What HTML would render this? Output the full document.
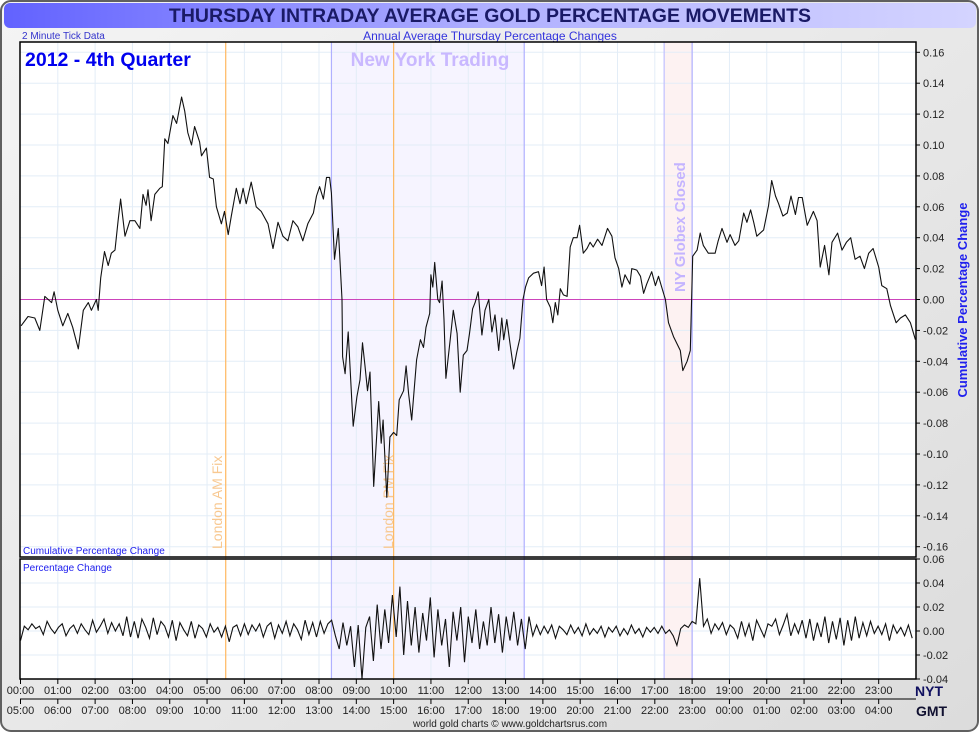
<!DOCTYPE html>
<html><head><meta charset="utf-8"><style>
html,body{margin:0;padding:0;background:#fff;}
#wrap{position:relative;width:980px;height:733px;overflow:hidden;}
svg text{font-family:"Liberation Sans",sans-serif;}
</style></head><body>
<div id="wrap">
<svg id="chart" width="980" height="733" xmlns="http://www.w3.org/2000/svg">
<defs>
<linearGradient id="bg" x1="0" y1="0" x2="1" y2="1"><stop offset="0" stop-color="#f4f4f4"/><stop offset="1" stop-color="#dcdcdc"/></linearGradient>
<linearGradient id="tb" x1="0" y1="0" x2="1" y2="0"><stop offset="0" stop-color="#6262ff"/><stop offset="0.5" stop-color="#b0b0ff"/><stop offset="1" stop-color="#d4d4ff"/></linearGradient>
</defs>
<rect x="1" y="1" width="977" height="730" rx="10" fill="url(#bg)" stroke="#606060" stroke-width="2"/>
<rect x="4" y="3" width="972" height="25" rx="6" fill="url(#tb)"/>
<text x="490" y="22" text-anchor="middle" font-size="19.5" font-weight="bold" fill="#1a1a66">THURSDAY INTRADAY AVERAGE GOLD PERCENTAGE MOVEMENTS</text>
<text x="22" y="39" font-size="10" fill="#3333cc">2 Minute Tick Data</text>
<text x="490" y="40" text-anchor="middle" font-size="12" fill="#3333dd">Annual Average Thursday Percentage Changes</text>
<g id="g"></g>
</svg>
</div>
<script>
// cumulative series: minutes since 00:00 NYT, value (%)
const cumMinutes=[1,12,23,31,39,50,54,60,68,76,84,93,101,109,114,122,125,129,135,141,146,152,157,161,168,176,184,192,197,202,205,210,216,224,228,232,237,245,251,259,264,269,275,280,288,291,299,304,310,315,323,328,334,339,347,353,358,363,371,379,387,398,406,414,422,430,438,446,454,462,471,476,481,487,492,497,500,505,511,
517,518,522,527,533,535,541,546,550,554,558,562,568,576,580,583,589,594,600,605,609,616,620,624,629,637,643,648,652,658,660,663,666,671,674,678,681,684,691,696,702,707,712,718,722,727,731,736,742,747,753,758,763,769,774,777,782,787,793,798,803,808,812,817,825,833,838,842,846,852,856,860,864,868,873,879,884,889,895,899,905,911,916,921,928,935,944,951,956,962,
967,972,980,983,991,997,1002,1007,1015,1021,1026,1031,1037,1042,1050,1061,1065,1072,1077,1081,1088,1093,1098,1106,1117,1122,1128,1136,1141,1149,1155,1163,1168,1174,1179,1184,1195,1203,1208,1214,1219,1226,1233,1239,1246,1251,1257,1265,1275,1281,1286,1293,1300,1305,1314,1321,1328,1335,1342,1350,1357,1364,1371,1380,1385,1393,1399,1408,1415,1423,1431,1439];
const cumValues=[-0.017,-0.011,-0.012,-0.020,0.002,-0.002,0.005,-0.007,-0.017,-0.009,-0.018,-0.032,-0.007,-0.002,-0.007,0.000,-0.007,0.014,0.031,0.022,0.030,0.032,0.051,0.065,0.041,0.051,0.051,0.046,0.068,0.061,0.071,0.051,0.068,0.072,0.073,0.104,0.101,0.119,0.114,0.131,0.122,0.108,0.100,0.112,0.102,0.093,0.098,0.079,0.078,0.060,0.049,0.057,0.042,0.054,0.072,0.062,0.072,0.062,0.076,0.060,0.057,0.049,0.033,0.050,0.041,0.038,0.051,0.047,0.038,0.049,0.056,0.067,0.073,0.065,0.079,0.079,0.069,0.026,0.046,
0.000,-0.037,-0.048,-0.021,-0.068,-0.082,-0.063,-0.052,-0.028,-0.043,-0.059,-0.047,-0.121,-0.066,-0.093,-0.078,-0.128,-0.089,-0.086,-0.088,-0.065,-0.059,-0.043,-0.061,-0.078,-0.039,-0.026,-0.031,-0.018,-0.009,0.016,0.008,0.024,0.000,-0.002,0.012,-0.013,-0.051,-0.026,-0.007,-0.022,-0.060,-0.036,-0.033,-0.022,-0.006,-0.002,0.005,-0.023,-0.007,0.000,-0.021,-0.010,-0.033,-0.012,-0.026,-0.013,-0.028,-0.045,-0.034,-0.025,0.000,0.008,0.014,0.017,0.018,0.009,0.021,0.000,-0.005,-0.015,-0.002,-0.010,0.007,0.003,0.002,0.034,0.040,0.040,0.048,0.030,0.033,0.037,0.034,0.039,0.035,0.046,0.041,0.027,0.020,
0.008,0.016,0.010,0.020,0.019,0.015,0.004,0.010,0.018,0.009,0.015,0.008,0.000,-0.015,-0.024,-0.033,-0.046,-0.040,-0.033,0.028,0.032,0.043,0.035,0.030,0.030,0.038,0.046,0.037,0.042,0.035,0.038,0.056,0.050,0.058,0.050,0.041,0.045,0.061,0.077,0.067,0.062,0.054,0.056,0.067,0.055,0.066,0.066,0.048,0.057,0.051,0.021,0.035,0.016,0.037,0.043,0.032,0.037,0.040,0.026,0.028,0.020,0.030,0.033,0.021,0.009,0.007,-0.004,-0.015,-0.012,-0.010,-0.015,-0.026];
// per-interval percentage change, 6-minute spacing (240 values)
const pctValues=[-0.008,0.004,0.001,0.006,0.002,0.004,-0.003,0.008,0.002,-0.002,0.003,0.006,-0.004,0.002,0.005,-0.002,0.006,0.001,-0.003,0.009,-0.001,0.004,0.010,-0.002,0.007,0.000,0.006,-0.004,0.012,-0.005,0.008,-0.006,0.010,0.003,-0.006,0.011,-0.003,0.008,0.004,-0.005,0.009,-0.008,0.007,0.001,-0.004,0.008,-0.006,0.005,0.002,-0.005,0.006,-0.001,0.003,-0.005,0.004,-0.009,0.003,0.005,-0.004,0.006,-0.003,0.005,0.000,0.006,-0.005,0.004,0.007,-0.006,0.005,-0.002,0.008,-0.004,0.006,0.001,-0.007,0.009,-0.003,0.007,-0.005,0.008,-0.002,0.006,0.009,-0.004,
-0.015,0.007,-0.012,0.004,-0.030,0.005,-0.040,0.003,0.012,-0.025,0.022,-0.015,0.018,-0.010,0.030,-0.005,0.037,-0.020,0.025,-0.012,0.020,-0.018,0.015,-0.008,0.028,-0.022,0.018,-0.012,0.010,-0.030,0.016,-0.008,0.020,-0.026,0.012,-0.010,0.018,-0.015,0.008,-0.012,0.020,-0.010,0.014,-0.018,0.012,-0.008,0.016,-0.012,0.010,-0.015,0.012,
-0.004,0.005,-0.003,0.004,-0.002,0.005,-0.006,0.004,0.001,-0.003,0.005,-0.002,0.003,-0.004,0.006,-0.003,0.002,-0.002,0.004,-0.005,0.003,-0.001,0.004,-0.004,0.002,-0.003,0.005,-0.002,0.002,-0.005,0.003,-0.001,0.003,-0.002,0.004,-0.002,0.001,-0.004,-0.012,0.002,0.005,0.003,0.008,0.006,0.044,
0.004,0.010,-0.002,0.006,0.001,0.007,-0.003,0.005,0.002,-0.006,0.008,-0.004,0.006,-0.008,0.009,0.002,-0.005,0.006,0.004,0.010,-0.003,0.005,0.014,-0.004,0.006,-0.002,0.009,-0.006,0.010,-0.008,0.007,-0.005,0.012,-0.010,0.008,-0.007,0.011,-0.012,0.009,-0.008,0.012,-0.006,0.007,-0.004,0.008,-0.002,0.004,-0.003,0.006,-0.008,0.005,-0.002,0.003,-0.004,0.005,-0.006];
const cumTicks=[0.16,0.14,0.12,0.10,0.08,0.06,0.04,0.02,0.00,-0.02,-0.04,-0.06,-0.08,-0.10,-0.12,-0.14,-0.16];
const pctTicks=[0.06,0.04,0.02,0.00,-0.02,-0.04];
const nytLabels=["00:00","01:00","02:00","03:00","04:00","05:00","06:00","07:00","08:00","09:00","10:00","11:00","12:00","13:00","14:00","15:00","16:00","17:00","18:00","19:00","20:00","21:00","22:00","23:00"];
const gmtLabels=["05:00","06:00","07:00","08:00","09:00","10:00","11:00","12:00","13:00","14:00","15:00","16:00","17:00","18:00","19:00","20:00","21:00","22:00","23:00","00:00","01:00","02:00","03:00","04:00"];

const NS="http://www.w3.org/2000/svg";
const g=document.getElementById('g');
const L=20.5,R=916;
const x=m=>L+(R-L)*m/1440;
const yC=v=>299.5-v/0.02*30.9;
const yP=v=>631-v/0.02*24;
function mk(tag,attrs,parent){const e=document.createElementNS(NS,tag);for(const k in attrs)e.setAttribute(k,attrs[k]);(parent||g).appendChild(e);return e;}

let e=mk('rect',{x:20,y:42,width:896,height:515,fill:'#fff'});


e=mk('rect',{x:20,y:559,width:896,height:120,fill:'#fff'});



[[500,810,'#f6f4ff','ny-trading-region'],[1035,1080,'#fdf2f2','globex-closed-region']].forEach(r=>{
 const el=mk('rect',{x:x(r[0]),y:42,width:x(r[1])-x(r[0]),height:637,fill:r[2]});
 
 
});
for(let h=1;h<24;h++){const gl=mk('line',{x1:x(h*60),x2:x(h*60),y1:42,y2:679,stroke:'#e3edf7','stroke-width':1});
 
 }
cumTicks.forEach(t=>{const gl=mk('line',{x1:20,x2:916,y1:yC(t),y2:yC(t),stroke:'#e3edf7'});
 
 });
pctTicks.forEach(t=>{const gl=mk('line',{x1:20,x2:916,y1:yP(t),y2:yP(t),stroke:'#e3edf7'});
 
 });
[[500,'#b0b0ff'],[810,'#b0b0ff'],[1035,'#c0c0ff'],[1080,'#b0b0ff'],[330,'#ffb860'],[600,'#ffb860']].forEach(v=>{
 const el=mk('line',{x1:x(v[0]),x2:x(v[0]),y1:42,y2:679,stroke:v[1],'stroke-width':1.2});
 
 
});
e=mk('line',{x1:20,x2:916,y1:yC(0),y2:yC(0),stroke:'#cc44bb','stroke-width':1});



function txt(s,a,name){const t=mk('text',a);t.textContent=s;return t;}
txt('New York Trading',{x:430,y:66,'text-anchor':'middle','font-size':19,'font-weight':'bold',fill:'#c9b8ff'},'ny-trading-label');
txt('London AM Fix',{x:0,y:0,'font-size':14,fill:'#f8c890',transform:'translate(222,549) rotate(-90)'},'london-am-fix-label');
txt('London PM Fix',{x:0,y:0,'font-size':14,fill:'#f8c890',transform:'translate(393,549) rotate(-90)'},'london-pm-fix-label');
txt('NY Globex Closed',{x:0,y:0,'font-size':15,'font-weight':'bold',fill:'#c4b4ff',transform:'translate(685,292) rotate(-90)'},'globex-closed-label');
txt('2012 - 4th Quarter',{x:25,y:66,'font-size':19.5,'font-weight':'bold',fill:'#0000ee'},'quarter-label');
txt('Cumulative Percentage Change',{x:23,y:554,'font-size':10,fill:'#2020ee'},'cumulative-panel-label');
txt('Percentage Change',{x:23,y:571,'font-size':10,fill:'#2020ee'},'pct-panel-label');

let d='';cumMinutes.forEach((m,i)=>{d+=(i?'L':'M')+x(m).toFixed(1)+','+yC(cumValues[i]).toFixed(1);});
e=mk('path',{d:d,fill:'none',stroke:'#111','stroke-width':1.1,'stroke-linejoin':'round'});


d='';const step=1440/pctValues.length;
pctValues.forEach((v,i)=>{d+=(i?'L':'M')+x(i*step).toFixed(1)+','+yP(v).toFixed(1);});
e=mk('path',{d:d,fill:'none',stroke:'#111','stroke-width':1.1});



e=mk('rect',{x:20,y:42,width:896,height:515,fill:'none',stroke:'#000','stroke-width':1.5});


e=mk('rect',{x:20,y:559,width:896,height:120,fill:'none',stroke:'#000','stroke-width':1.5});



cumTicks.forEach(t=>{mk('line',{x1:916,x2:920,y1:yC(t),y2:yC(t),stroke:'#000'});
 txt(t.toFixed(2),{x:923,y:yC(t)+4,'font-size':11,fill:'#222'},'y-tick-label');});
pctTicks.forEach(t=>{mk('line',{x1:916,x2:920,y1:yP(t),y2:yP(t),stroke:'#000'});
 txt(t.toFixed(2),{x:923,y:yP(t)+4,'font-size':11,fill:'#222'},'y-tick-label-lower');});
txt('Cumulative Percentage Change',{x:0,y:0,'text-anchor':'middle','font-size':13,'font-weight':'bold',fill:'#2020ee',transform:'translate(967,300) rotate(-90)'},'y-axis-title');

e=mk('line',{x1:20,x2:916,y1:699,y2:699,stroke:'#000'});


nytLabels.forEach((s,i)=>{const xx=x(i*60);mk('line',{x1:xx,x2:xx,y1:679,y2:684,stroke:'#000'});
 txt(s,{x:xx,y:694,'text-anchor':'middle','font-size':11,fill:'#222'},'nyt-tick-label');});
gmtLabels.forEach((s,i)=>{const xx=x(i*60);mk('line',{x1:xx,x2:xx,y1:699,y2:704,stroke:'#000'});
 txt(s,{x:xx,y:714,'text-anchor':'middle','font-size':11,fill:'#222'},'gmt-tick-label');});
txt('NYT',{x:915,y:696,'font-size':14,'font-weight':'bold',fill:'#101060'},'nyt-axis-label');
txt('GMT',{x:916,y:716,'font-size':14,'font-weight':'bold',fill:'#101030'},'gmt-axis-label');
txt('world gold charts \u00a9 www.goldchartsrus.com',{x:510,y:727,'text-anchor':'middle','font-size':10,fill:'#222'},'footer-credit');
</script>
</body></html>
